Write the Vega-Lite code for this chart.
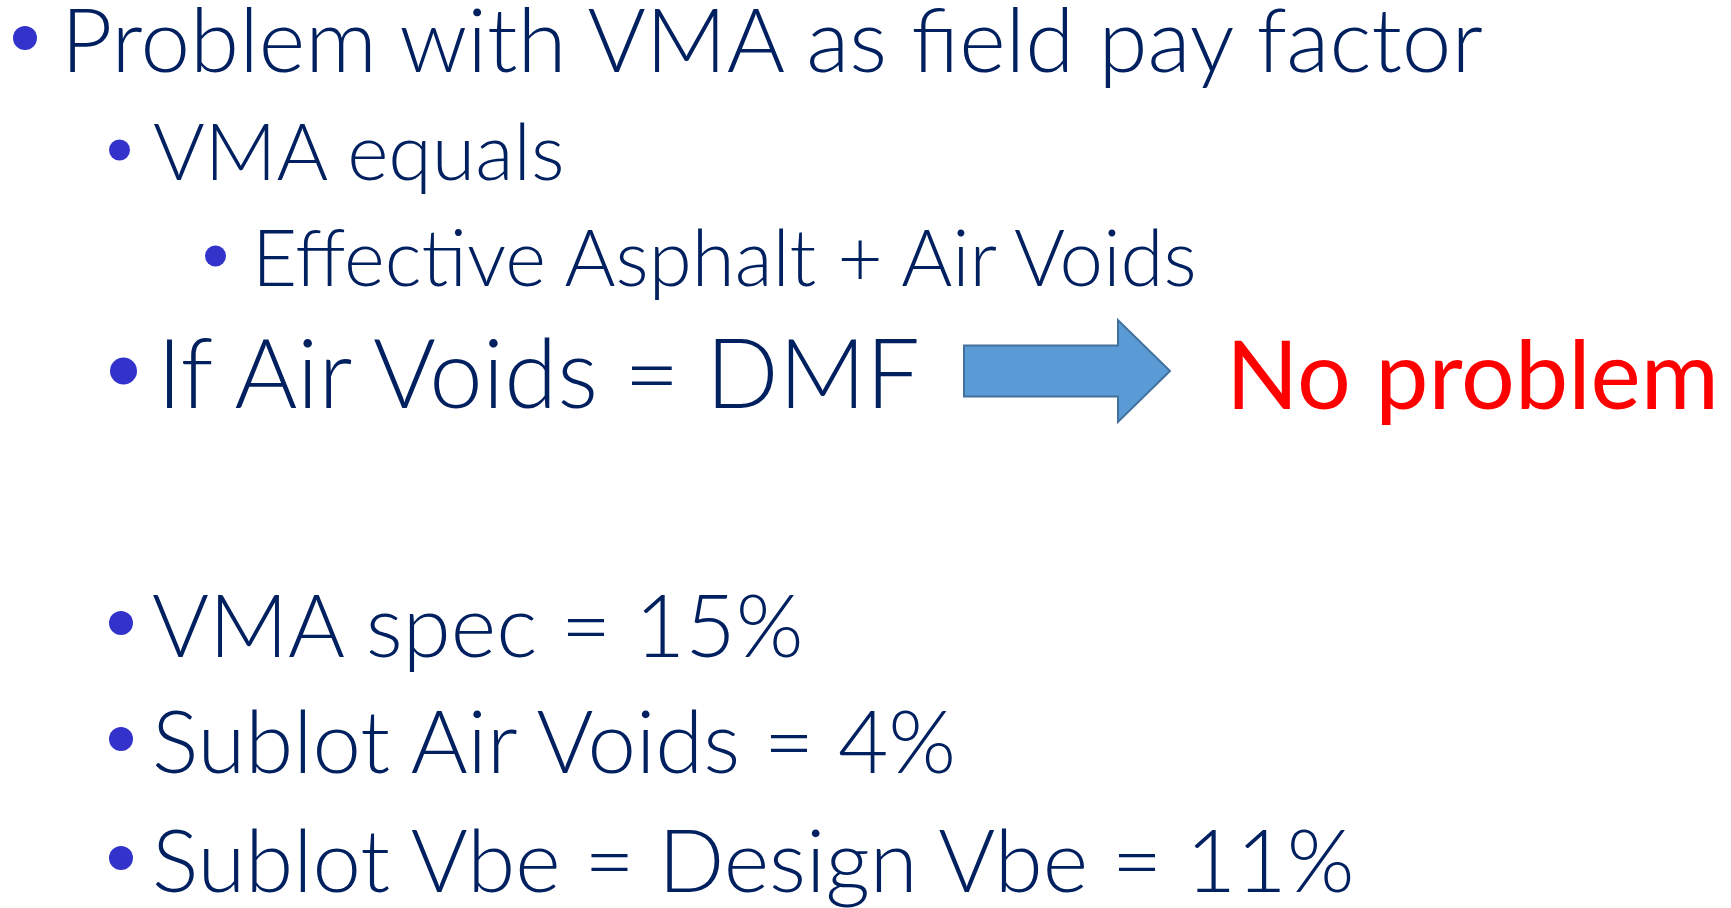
{
  "$schema": "https://vega.github.io/schema/vega-lite/v6.json",
  "autosize": {"type": "none"},
  "width": 1731,
  "height": 908,
  "padding": 0,
  "background": "#ffffff",
  "config": {"view": {"stroke": null}},
  "datasets": {
    "lines": [
      {"text": "Problem with VMA as field pay factor", "level": "L1", "kind": "text", "col": 61, "bcol": 25, "row": 72},
      {"text": "VMA equals", "level": "L2", "kind": "text", "col": 153, "bcol": 119.5, "row": 180},
      {"text": "Effective Asphalt + Air Voids", "level": "L3", "kind": "text", "col": 252, "bcol": 215.5, "row": 286},
      {"text": "If Air Voids = DMF", "level": "big", "kind": "text", "col": 157, "bcol": 123.5, "row": 408},
      {"text": "No problem", "level": "alert", "kind": "alert", "col": 1226, "bcol": null, "row": 409},
      {"text": "VMA spec = 15%", "level": "body", "kind": "text", "col": 152, "bcol": 121, "row": 657},
      {"text": "Sublot Air Voids = 4%", "level": "body", "kind": "text", "col": 152, "bcol": 121, "row": 773},
      {"text": "Sublot Vbe = Design Vbe = 11%", "level": "body", "kind": "text", "col": 152, "bcol": 121, "row": 892}
    ],
    "shapes": [
      {"item": "arrow", "col": 1067, "row": 371}
    ]
  },
  "encoding": {
    "y": {"field": "row", "type": "quantitative", "scale": {"domain": [0, 908], "nice": false, "zero": false, "reverse": true}, "axis": null}
  },
  "layer": [
    {
      "data": {"name": "shapes"},
      "mark": {
        "type": "point",
        "filled": true,
        "shape": "M-1,-0.248L0.495,-0.248L0.495,-0.495L1,0L0.495,0.495L0.495,0.248L-1,0.248Z",
        "fill": "#5B9BD5",
        "stroke": "#41719C",
        "strokeWidth": 2,
        "opacity": 1,
        "fillOpacity": 1,
        "size": 42436
      },
      "encoding": {
        "x": {"field": "col", "type": "quantitative", "scale": {"domain": [0, 1731], "nice": false, "zero": false}, "axis": null}
      }
    },
    {
      "data": {"name": "lines"},
      "transform": [{"filter": "datum.level == 'L1' || datum.level == 'body'"}],
      "mark": {"type": "point", "shape": "circle", "filled": true, "color": "#3333CC", "opacity": 1, "size": 576, "yOffset": -34},
      "encoding": {"x": {"field": "bcol", "type": "quantitative"}}
    },
    {
      "data": {"name": "lines"},
      "transform": [{"filter": "datum.level == 'L2' || datum.level == 'L3'"}],
      "mark": {"type": "point", "shape": "circle", "filled": true, "color": "#3333CC", "opacity": 1, "size": 441, "yOffset": -30},
      "encoding": {"x": {"field": "bcol", "type": "quantitative"}}
    },
    {
      "data": {"name": "lines"},
      "transform": [{"filter": "datum.level == 'big'"}],
      "mark": {"type": "point", "shape": "circle", "filled": true, "color": "#3333CC", "opacity": 1, "size": 729, "yOffset": -37},
      "encoding": {"x": {"field": "bcol", "type": "quantitative"}}
    },
    {
      "data": {"name": "lines"},
      "transform": [{"filter": "datum.level == 'L1'"}],
      "mark": {"type": "text", "align": "left", "baseline": "alphabetic", "font": "Lato", "fontWeight": 300, "fontSize": 89, "color": "#002060"},
      "encoding": {"x": {"field": "col", "type": "quantitative"}, "text": {"field": "text"}}
    },
    {
      "data": {"name": "lines"},
      "transform": [{"filter": "datum.level == 'L2'"}],
      "mark": {"type": "text", "align": "left", "baseline": "alphabetic", "font": "Lato", "fontWeight": 300, "fontSize": 79, "color": "#002060"},
      "encoding": {"x": {"field": "col", "type": "quantitative"}, "text": {"field": "text"}}
    },
    {
      "data": {"name": "lines"},
      "transform": [{"filter": "datum.level == 'L3'"}],
      "mark": {"type": "text", "align": "left", "baseline": "alphabetic", "font": "Lato", "fontWeight": 300, "fontSize": 78, "color": "#002060"},
      "encoding": {"x": {"field": "col", "type": "quantitative"}, "text": {"field": "text"}}
    },
    {
      "data": {"name": "lines"},
      "transform": [{"filter": "datum.level == 'big'"}],
      "mark": {"type": "text", "align": "left", "baseline": "alphabetic", "font": "Lato", "fontWeight": 300, "fontSize": 96, "color": "#002060"},
      "encoding": {"x": {"field": "col", "type": "quantitative"}, "text": {"field": "text"}}
    },
    {
      "data": {"name": "lines"},
      "transform": [{"filter": "datum.level == 'body'"}],
      "mark": {"type": "text", "align": "left", "baseline": "alphabetic", "font": "Lato", "fontWeight": 300, "fontSize": 87, "color": "#002060"},
      "encoding": {"x": {"field": "col", "type": "quantitative"}, "text": {"field": "text"}}
    },
    {
      "data": {"name": "lines"},
      "transform": [{"filter": "datum.level == 'alert'"}],
      "mark": {"type": "text", "align": "left", "baseline": "alphabetic", "font": "Lato", "fontWeight": 400, "fontSize": 95, "color": "#FF0000"},
      "encoding": {"x": {"field": "col", "type": "quantitative"}, "text": {"field": "text"}}
    }
  ]
}
